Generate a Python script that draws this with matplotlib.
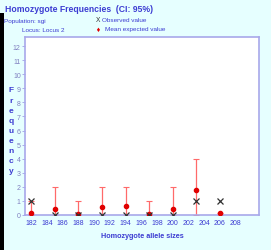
import matplotlib
matplotlib.use('Agg')
import matplotlib.pyplot as plt
from matplotlib.patches import Rectangle

# data
alleles = [182, 185, 188, 191, 194, 197, 200, 203, 206]
observed = [1, 0, 0, 0, 0, 0, 0, 1, 1]
expected_mean = [0.12, 0.45, 0.08, 0.6, 0.62, 0.1, 0.45, 1.78, 0.14]
ci_lower = [0, 0, 0, 0, 0, 0, 0, 0, 0]
ci_upper = [1, 2, 1, 2, 2, 1, 2, 4, 0.14]
x_ticks = list(range(182, 210, 2))
y_ticks = list(range(0, 13))

BLUE = '#3c3cd2'
BG = '#e6ffff'
plt.rcParams['font.family'] = ['Liberation Sans', 'DejaVu Sans']

fig = plt.figure(figsize=(2.71, 2.51), dpi=100, facecolor=BG)
W, H = 271.0, 251.0

# black strip on the left edge
fig.patches.append(Rectangle((0, 0), 4 / W, 1 - 14 / H, transform=fig.transFigure,
                             facecolor='black', edgecolor='none'))

ax = fig.add_axes([25 / W, 1 - 216 / H, 234 / W, 178 / H])
ax.set_facecolor('white')

lo = [m - l for m, l in zip(expected_mean, ci_lower)]
hi = [u - m for m, u in zip(expected_mean, ci_upper)]
ax.errorbar(alleles, expected_mean, yerr=[lo, hi], fmt='none', ecolor='#ff6a6a',
            elinewidth=0.9, capsize=2.2, capthick=0.8, zorder=2)
ax.plot(alleles, expected_mean, 'o', color='#e00000', markersize=3.0, zorder=3)
ax.plot(alleles, observed, 'x', color='#303030', markersize=4.0, mew=0.9, zorder=4)

ax.set_xlim(181.2, 211)
ax.set_ylim(0, 12.64)
ax.set_xticks(x_ticks)
ax.set_yticks(y_ticks)
ax.tick_params(axis='x', length=0, pad=3, labelsize=5, labelcolor=BLUE)
ax.tick_params(axis='y', length=2, width=0.6, color='#a0a0e6', pad=1,
               labelsize=5, labelcolor='#8080c0')
for s in ax.spines.values():
    s.set_color('#a8a8ea')
    s.set_linewidth(1.2)

ax.set_xlabel('Homozygote allele sizes', fontsize=5.2, fontweight='bold', color=BLUE,
              labelpad=4)

# stacked vertical y label
for i, ch in enumerate('Frequency'):
    fig.text(11 / W, 1 - (91 + i * 10.1) / H, ch, fontsize=6, fontweight='bold',
             color=BLUE, ha='center', va='center')

fig.text(5 / W, 1 - 10 / H, 'Homozygote Frequencies  (CI: 95%)', fontsize=6.2,
         fontweight='bold', color=BLUE, ha='left', va='center')
fig.text(4 / W, 1 - 21 / H, 'Population: sgi', fontsize=4.6, color=BLUE, ha='left', va='center')
fig.text(22 / W, 1 - 30 / H, 'Locus: Locus 2', fontsize=4.6, color=BLUE, ha='left', va='center')
fig.text(96 / W, 1 - 21 / H, 'X', fontsize=4.8, color='#303030', ha='left', va='center')
fig.text(102 / W, 1 - 21 / H, 'Observed value', fontsize=4.6, color=BLUE, ha='left', va='center')
fig.text(98 / W, 1 - 30 / H, '\u2666', fontsize=4, color='#e00000', ha='center', va='center',
         family='DejaVu Sans')
fig.text(105 / W, 1 - 30 / H, 'Mean expected value', fontsize=4.6, color=BLUE, ha='left',
         va='center')

fig.savefig('out.png', dpi=100, facecolor=BG)
